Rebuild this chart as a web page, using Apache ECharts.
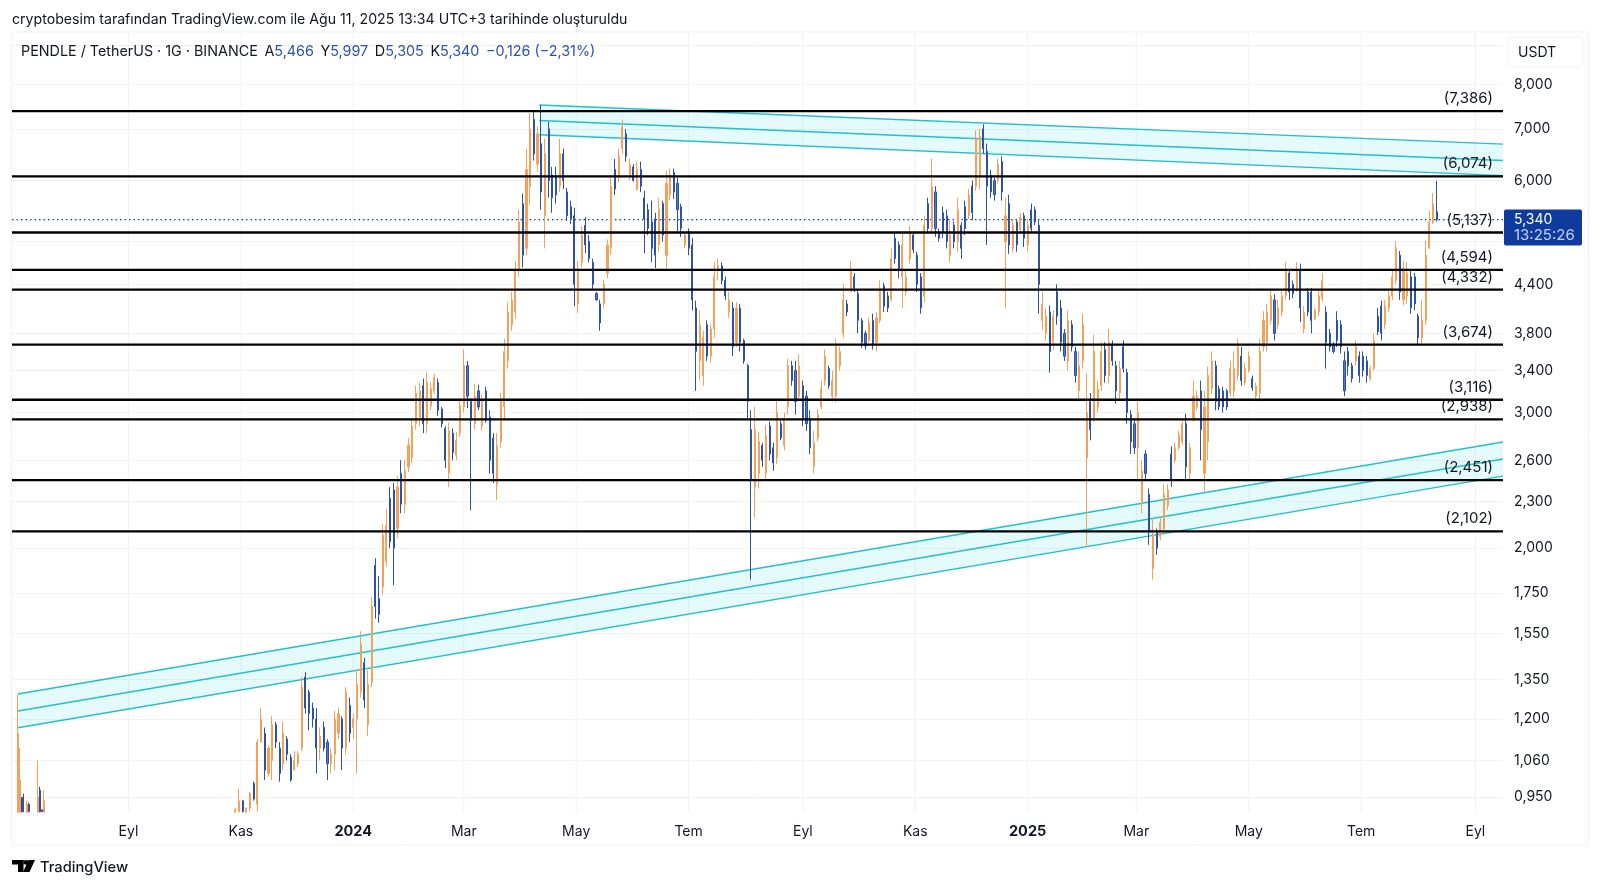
<!DOCTYPE html>
<html><head><meta charset="utf-8">
<style>html,body{margin:0;padding:0;background:#fff}#c{width:1600px;height:887px}</style>
<script src="https://cdn.jsdelivr.net/npm/echarts@6/dist/echarts.min.js"></script>
</head><body><div id="c"></div>
<script>
const earlyDates=['2023-07-03','2023-07-04','2023-07-05','2023-07-06','2023-07-08','2023-07-09','2023-07-14','2023-07-15','2023-07-16','2023-07-17'];
// [open, high, low, close]
const earlyCandles=[[.908,1.29,.908,1.15],[.908,1.10,.908,1.0],[.945,.95,.908,.91],[.95,.96,.908,.91],[.908,.94,.908,.93],[.93,.935,.908,.91],[.908,1.06,.908,.95],[.97,.98,.908,.91],[.915,.915,.908,.91],[.908,.97,.908,.94]];
const firstDate='2023-10-29';
const stepDays=2;
const candles=[
[.908,.92,.908,.915],[.91,.975,.908,.94],[.94,.94,.908,.91],[.908,.92,.908,.92],[.92,.965,.91,.96],[.99,.995,.94,.945],[.93,1.13,.91,1.12],[1.12,1.24,1.12,1.20],[1.15,1.17,1.0,1.03],[1.02,1.11,1.01,1.10],
[1.06,1.21,1.0,1.18],[1.18,1.19,1.10,1.12],[1.10,1.12,.995,1.02],[1.05,1.19,1.03,1.15],[1.13,1.14,1.06,1.08],[1.07,1.08,.995,1.0],[1.03,1.09,1.03,1.06],[1.05,1.09,1.04,1.08],[1.10,1.36,1.09,1.32],[1.36,1.38,1.22,1.24],
[1.30,1.31,1.16,1.22],[1.24,1.26,1.17,1.20],[1.20,1.24,1.02,1.10],[1.10,1.17,1.06,1.14],[1.17,1.19,1.09,1.10],[1.12,1.13,1.0,1.05],[1.05,1.10,1.02,1.08],[1.08,1.23,1.03,1.20],[1.15,1.24,1.13,1.22],[1.20,1.21,1.03,1.10],
[1.10,1.32,1.08,1.30],[1.25,1.28,1.12,1.15],[1.17,1.22,1.13,1.20],[1.20,1.39,1.02,1.33],[1.30,1.56,1.28,1.50],[1.42,1.44,1.24,1.27],[1.18,1.39,1.14,1.33],[1.34,1.73,1.32,1.68],[1.90,1.94,1.62,1.68],[1.72,1.84,1.60,1.64],
[1.78,2.15,1.74,2.08],[1.92,2.25,1.89,2.14],[2.32,2.40,2.0,2.04],[2.38,2.43,1.79,2.0],[2.12,2.48,2.06,2.40],[2.5,2.6,2.22,2.28],[2.28,2.6,2.22,2.52],[2.55,2.78,2.51,2.72],[2.62,2.95,2.58,2.88],[2.9,3.25,2.85,3.18],
[2.95,3.28,2.88,3.2],[3.25,3.32,2.82,2.9],[2.9,3.38,2.82,3.28],[3.06,3.28,3.02,3.22],[3.2,3.37,3.17,3.33],[3.28,3.32,2.97,3.02],[3.03,3.05,2.87,2.9],[2.86,2.88,2.54,2.6],[2.5,2.91,2.4,2.84],[2.82,2.86,2.6,2.66],
[2.64,2.83,2.6,2.76],[2.82,3.13,2.79,3.06],[3.05,3.62,3.0,3.45],[3.45,3.5,3.04,3.15],[3.1,3.13,2.24,2.95],[2.9,3.27,2.85,3.15],[3.2,3.26,3.02,3.05],[2.88,3.17,2.84,3.1],[3.2,3.24,2.91,2.95],[2.96,3.02,2.5,2.6],
[2.78,2.82,2.43,2.5],[2.42,2.82,2.31,2.72],[2.75,3.18,2.7,3.1],[3.05,3.74,2.93,3.6],[3.5,4.17,3.42,4.05],[3.9,4.3,3.83,4.2],[4.05,4.72,3.97,4.6],[4.6,5.5,4.5,5.3],[5.6,5.77,4.63,4.8],[4.9,6.6,4.8,6.2],
[5.9,7.34,5.58,7.0],[7.2,7.36,6.37,6.5],[6.3,7.06,6.16,6.9],[6.7,7.52,5.5,5.8],[5.4,6.8,4.9,6.5],[7.0,7.15,5.7,6.0],[6.1,6.25,5.45,5.7],[6.1,6.25,5.6,5.75],[5.9,6.8,5.8,6.5],[6.5,6.6,5.85,6.0],
[5.8,5.87,5.32,5.4],[5.55,5.65,5.27,5.35],[5.4,5.53,4.12,4.4],[4.15,4.72,4.04,4.6],[4.7,5.24,4.63,5.1],[5.25,5.38,4.83,4.95],[5.0,5.1,4.7,4.75],[4.7,4.75,4.32,4.4],[4.28,4.3,4.19,4.2],[4.15,4.2,3.83,3.92],
[4.15,4.46,4.1,4.4],[4.55,5.03,4.48,4.95],[4.9,6.1,4.8,5.9],[6.2,6.4,5.75,5.85],[6.05,6.6,5.97,6.45],[6.6,7.2,6.5,7.05],[6.9,7.0,6.35,6.45],[6.1,6.4,6.0,6.3],[6.25,6.3,5.98,6.0],[5.85,6.35,5.82,6.2],
[6.2,6.35,5.8,5.9],[5.7,5.82,4.83,5.35],[5.5,5.6,5.1,5.2],[5.3,5.65,4.7,4.9],[5.35,5.45,4.62,4.8],[4.95,5.7,4.85,5.5],[5.6,5.65,5.0,5.1],[4.8,6.18,4.62,5.95],[5.75,6.22,5.65,6.1],[6.15,6.22,5.68,5.8],
[5.95,6.05,5.16,5.5],[5.55,5.6,5.07,5.2],[4.95,5.15,4.9,5.1],[5.15,5.2,4.8,4.9],[4.95,5.05,4.07,4.2],[4.1,4.19,3.2,3.6],[3.5,4.07,3.3,3.9],[3.35,3.83,3.25,3.75],[3.9,3.95,3.5,3.55],[3.55,3.9,3.48,3.85],
[3.85,4.7,3.75,4.5],[4.6,4.75,4.45,4.65],[4.65,4.7,4.4,4.45],[4.45,4.5,4.2,4.25],[4.05,4.3,3.98,4.2],[4.1,4.17,3.55,3.65],[3.7,4.17,3.65,4.1],[4.1,4.15,3.6,3.7],[3.72,3.74,3.47,3.5],[3.45,3.47,2.95,3.1],
[2.85,3.02,1.82,2.45],[2.4,3.05,2.19,2.85],[2.5,2.83,2.39,2.75],[2.72,2.74,2.55,2.6],[2.5,2.89,2.45,2.8],[2.88,2.92,2.6,2.65],[2.7,2.74,2.52,2.58],[2.62,3.12,2.57,3.0],[2.9,2.93,2.76,2.78],[2.72,3.0,2.68,2.95],
[3.05,3.52,2.98,3.45],[3.45,3.5,3.25,3.3],[3.4,3.5,2.98,3.1],[3.15,3.57,3.11,3.45],[3.25,3.3,2.88,2.95],[3.15,3.2,2.84,2.9],[2.95,3.02,2.65,2.7],[2.55,2.84,2.5,2.74],[2.78,3.03,2.75,2.98],[3.05,3.3,3.03,3.22],
[3.3,3.62,3.25,3.55],[3.42,3.45,3.22,3.25],[3.15,3.4,3.1,3.3],[3.15,3.74,3.09,3.65],[3.45,3.65,3.4,3.6],[3.8,4.4,3.75,4.2],[4.15,4.2,4.0,4.05],[4.3,4.72,4.3,4.6],[4.5,4.55,4.3,4.35],[4.28,4.32,3.8,3.95],
[3.95,3.98,3.64,3.7],[3.8,3.83,3.62,3.66],[3.72,3.98,3.7,3.92],[3.95,4.03,3.62,3.68],[3.7,4.05,3.6,3.98],[3.95,4.45,3.92,4.35],[4.38,4.42,4.05,4.12],[4.25,4.3,4.05,4.1],[4.2,4.9,4.18,4.75],[5.05,5.13,4.68,4.75],
[4.95,5.0,4.48,4.6],[4.5,5.15,4.1,4.95],[4.3,4.58,4.25,4.5],[4.75,5.24,4.68,5.15],[5.1,5.15,4.83,4.88],[4.8,4.85,4.3,4.4],[4.5,4.55,4.03,4.1],[4.25,5.4,4.17,5.25],[5.6,5.7,5.13,5.2],[5.2,6.4,5.15,5.9],
[5.8,5.9,5.07,5.2],[5.15,5.2,5.0,5.05],[5.45,5.55,5.05,5.15],[5.4,5.5,4.9,5.0],[4.8,5.33,4.7,5.1],[5.25,5.3,4.9,5.0],[5.0,5.7,4.85,5.5],[5.25,5.3,4.75,4.9],[5.55,5.65,5.1,5.2],[5.4,5.85,5.35,5.75],
[5.9,6.0,5.33,5.45],[5.9,6.97,5.82,6.8],[6.1,7.0,5.85,6.85],[7.0,7.1,6.5,6.6],[6.55,6.7,4.95,5.9],[6.1,6.2,5.7,5.8],[6.0,6.05,5.65,5.75],[6.0,6.4,5.95,6.3],[6.35,6.45,5.65,5.8],[5.0,5.7,4.1,5.4],
[5.6,5.75,4.82,4.95],[4.9,5.35,4.85,5.25],[5.3,5.35,4.85,4.95],[5.18,5.45,5.15,5.38],[5.4,5.45,4.92,5.05],[4.95,5.35,4.85,5.25],[5.5,5.6,5.15,5.2],[5.5,5.55,5.25,5.3],[5.25,5.33,4.03,4.4],[3.95,4.3,3.85,4.15],
[3.8,4.1,3.72,4.0],[4.05,4.13,3.38,3.6],[3.7,4.07,3.62,4.0],[4.3,4.4,3.9,4.0],[4.1,4.2,3.6,3.7],[3.8,3.85,3.5,3.55],[3.5,4.07,3.4,3.95],[3.9,3.95,3.6,3.65],[3.6,3.65,3.28,3.35],[3.2,3.6,3.1,3.45],
[3.5,4.03,3.42,3.9],[2.62,3.37,2.01,3.0],[3.1,3.18,2.76,2.85],[2.95,3.78,2.92,3.6],[3.05,3.3,3.0,3.22],[3.25,3.7,3.2,3.6],[3.62,3.7,3.28,3.35],[3.35,3.85,3.27,3.7],[3.68,3.72,3.45,3.5],[3.45,3.5,3.08,3.2],
[3.18,3.5,3.12,3.42],[3.65,3.72,3.38,3.42],[3.38,3.42,2.9,3.0],[2.98,3.02,2.65,2.75],[2.9,2.95,2.65,2.7],[2.7,3.11,2.45,3.0],[2.3,2.6,2.22,2.52],[2.65,2.68,2.45,2.5],[2.35,2.39,2.02,2.1],[1.88,2.19,1.82,2.08],
[2.1,2.12,1.96,2.0],[2.07,2.2,2.05,2.16],[2.12,2.42,2.08,2.35],[2.27,2.42,2.24,2.38],[2.65,2.71,2.4,2.45],[2.6,2.74,2.58,2.7],[2.7,2.84,2.68,2.8],[2.75,2.95,2.72,2.9],[2.9,2.99,2.45,2.55],[2.5,2.74,2.45,2.7],
[2.95,3.3,2.92,3.15],[3.05,3.2,3.02,3.15],[3.2,3.3,2.6,2.85],[2.5,3.2,2.37,3.05],[2.75,3.44,2.6,3.35],[3.22,3.6,3.17,3.5],[3.45,3.5,3.02,3.1],[3.22,3.25,3.02,3.05],[3.2,3.24,3.0,3.05],[3.2,3.22,3.02,3.05],
[3.18,3.5,3.15,3.42],[3.2,3.6,3.14,3.42],[3.35,3.74,3.3,3.65],[3.55,3.65,3.25,3.3],[3.28,3.48,3.25,3.42],[3.4,3.6,3.38,3.55],[3.32,3.35,3.2,3.23],[3.15,3.28,3.12,3.25],[3.18,3.74,3.1,3.6],[3.65,4.06,3.6,3.95],
[3.7,4.15,3.6,4.05],[3.95,4.32,3.9,4.25],[4.2,4.27,3.72,3.8],[3.9,4.2,3.85,4.1],[4.05,4.32,4.0,4.25],[4.25,4.7,4.2,4.6],[4.55,4.6,4.2,4.3],[4.4,4.45,4.22,4.28],[4.35,4.7,4.3,4.6],[4.6,4.68,3.93,4.1],
[3.85,4.12,3.8,4.05],[4.3,4.35,4.0,4.05],[4.3,4.35,3.8,3.95],[3.97,4.1,3.95,4.07],[4.05,4.32,4.0,4.25],[4.22,4.55,4.18,4.45],[4.05,4.12,3.42,3.7],[3.8,3.85,3.6,3.65],[3.68,3.7,3.58,3.6],[3.95,4.06,3.65,3.72],
[3.9,3.95,3.58,3.65],[3.5,3.6,3.15,3.2],[3.6,3.65,3.35,3.45],[3.45,3.48,3.28,3.32],[3.5,3.72,3.45,3.65],[3.55,3.6,3.28,3.35],[3.55,3.6,3.34,3.4],[3.5,3.55,3.28,3.35],[3.32,3.45,3.3,3.42],[3.42,3.8,3.4,3.72],
[4.0,4.1,3.78,3.82],[4.12,4.19,3.72,3.8],[3.9,4.2,3.85,4.12],[4.1,4.32,4.05,4.25],[4.25,4.6,4.2,4.5],[4.45,5.0,4.4,4.9],[4.8,4.86,4.2,4.3],[4.2,4.72,4.13,4.6],[4.25,4.7,4.15,4.55],[4.5,4.58,4.03,4.1],
[4.5,4.55,4.07,4.15],[4.0,4.03,3.67,3.75],[3.75,4.2,3.67,3.95],[3.95,5.01,3.9,4.8],[4.9,5.48,4.9,5.3],[5.3,5.78,5.27,5.6],[5.466,5.997,5.305,5.34]
];
const levels=[7.386,6.074,5.137,4.594,4.332,3.674,3.116,2.938,2.451,2.102];
const lastPrice=5.34;
const lastTimer='13:25:26';
const channelDates=[['2024-04-11','2025-09-16'],['2023-07-03','2025-09-16']];
const channelTop=[[7.52,6.69],[1.293,2.746]];
const channelMid=[[7.18,6.37],[1.229,2.61]];
const channelBottom=[[6.88,6.09],[1.169,2.48]];
const priceTicks=[9,8,7,6,5,4.4,3.8,3.4,3,2.6,2.3,2,1.75,1.55,1.35,1.2,1.06,.95];
const hiddenPriceTicks=[9,5];
const timeTickDates=['2023-09-01','2023-11-01','2024-01-01','2024-03-01','2024-05-01','2024-07-01','2024-09-01','2024-11-01','2025-01-01','2025-03-01','2025-05-01','2025-07-01','2025-09-01'];
const timeTickLabels=['Eyl','Kas','2024','Mar','May','Tem','Eyl','Kas','2025','Mar','May','Tem','Eyl'];
const titleText='cryptobesim tarafından TradingView.com ile Ağu 11, 2025 13:34 UTC+3 tarihinde oluşturuldu';
const symbolText='PENDLE / TetherUS · 1G · BINANCE';
const ohlcLabels=[['A','5,466'],['Y','5,997'],['D','5,305'],['K','5,340']];
const changeText='−0,126 (−2,31%)';

const FONT='Inter, "Noto Sans", sans-serif', INK='#131722', UP='#f4a259', DOWN='#2c52a5', DOWNBODY='#5676bd', TEAL='#22bfcc', NAVY='#0f3a9e';
const ms=s=>Date.parse(s+'T00:00:00Z');
const DAY=864e5;
const fmt=v=>v.toFixed(3).replace('.',',');
const xMin=ms('2023-06-29')+19*36e5, xMax=ms('2025-09-16');
const toRow=(t,r)=>[t,r[0],r[3],r[2],r[1]];
const rows=earlyCandles.map((r,i)=>toRow(ms(earlyDates[i]),r)).concat(candles.map((r,i)=>toRow(ms(firstDate)+i*stepDays*DAY,r)));
const timeVals=timeTickDates.map(ms);

const chart=echarts.init(document.getElementById('c'));
chart.setOption({
 useUTC:true,animation:false,backgroundColor:'#fff',
 grid:{left:12,right:97,top:33,bottom:74.7},
 xAxis:{type:'time',min:xMin,max:xMax,axisLine:{show:false},axisTick:{show:false},splitLine:{show:false},axisLabel:{show:false}},
 yAxis:{type:'log',position:'right',min:.908,max:9.326,
  axisLine:{show:false},
  axisTick:{show:false,customValues:priceTicks},
  splitLine:{show:true,lineStyle:{color:'#f1f2f4',width:1}},
  axisLabel:{customValues:priceTicks.filter(v=>!hiddenPriceTicks.includes(v)),margin:11,color:INK,fontFamily:FONT,fontSize:14,formatter:v=>fmt(+v)}},
 series:[
  {type:'custom',name:'timeAxis',coordinateSystem:'cartesian2d',clip:false,z:0,silent:true,
   data:timeVals.map(t=>[t,lastPrice]),encode:{x:0,y:1},
   renderItem:(p,api)=>{
    const t=api.coord([api.value(0),9.326]),b=api.coord([api.value(0),.908]);
    const l=timeTickLabels[p.dataIndex],yr=/^\d+$/.test(l);
    return {type:'group',children:[
     {type:'line',shape:{x1:t[0],y1:t[1],x2:b[0],y2:b[1]},style:{stroke:'#f1f2f4',lineWidth:1}},
     {type:'text',x:b[0],y:b[1]+19,style:{text:l,fill:INK,font:(yr?'bold 14.5px ':'14px ')+FONT,textAlign:'center',textVerticalAlign:'middle'}}]};
   }},
  {type:'custom',name:'channels',coordinateSystem:'cartesian2d',clip:true,z:1,silent:true,
   data:channelDates.map((d,i)=>[ms(d[0]),channelTop[i][0],ms(d[1]),channelTop[i][1],channelMid[i][0],channelMid[i][1],channelBottom[i][0],channelBottom[i][1]]),
   encode:{x:0,y:1},
   renderItem:(p,api)=>{
    const a=api.value(0),b=api.value(2);
    const pt=(t,v)=>api.coord([t,v]);
    const t0=pt(a,api.value(1)),t1=pt(b,api.value(3)),m0=pt(a,api.value(4)),m1=pt(b,api.value(5)),b0=pt(a,api.value(6)),b1=pt(b,api.value(7));
    const ln=(s,e)=>({type:'line',shape:{x1:s[0],y1:s[1],x2:e[0],y2:e[1]},style:{stroke:TEAL,lineWidth:1.4}});
    return {type:'group',children:[
     {type:'polygon',shape:{points:[t0,t1,b1,b0]},style:{fill:'rgba(40,210,225,0.12)'}},
     ln(t0,t1),ln(m0,m1),ln(b0,b1)]};
   }},
  {type:'line',name:'last',data:[[xMin,lastPrice],[xMax,lastPrice]],symbol:'none',silent:true,z:1,
   lineStyle:{color:NAVY,width:1.2,type:[1.5,3]}},
  {type:'candlestick',name:'PENDLE',data:rows,encode:{x:0,y:[1,2,3,4]},barWidth:1.6,z:2,silent:true,
   itemStyle:{color:UP,color0:DOWNBODY,borderColor:UP,borderColor0:DOWN,borderWidth:1}},
  {type:'custom',name:'levels',coordinateSystem:'cartesian2d',clip:false,z:3,silent:true,
   data:levels.map(v=>[xMin,v]),encode:{x:0,y:1},
   renderItem:(p,api)=>{
    const s=api.coord([xMin,api.value(1)]),e=api.coord([xMax,api.value(1)]);
    return {type:'group',children:[
     {type:'line',shape:{x1:s[0],y1:s[1],x2:e[0],y2:e[1]},style:{stroke:'#000',lineWidth:2.3}},
     {type:'text',x:e[0]-10,y:e[1]-12.5,style:{text:'('+fmt(api.value(1))+')',fill:INK,font:'15px '+FONT,textAlign:'right',textVerticalAlign:'middle'}}]};
   }},
  {type:'custom',name:'tag',coordinateSystem:'cartesian2d',clip:false,z:5,silent:true,
   data:[[xMax,lastPrice]],encode:{x:0,y:1},
   renderItem:(p,api)=>{
    const e=api.coord([xMax,api.value(1)]);
    return {type:'group',children:[
     {type:'rect',shape:{x:e[0]+1,y:e[1]-10,width:78,height:36,r:2},style:{fill:NAVY}},
     {type:'text',x:e[0]+11,y:e[1]+0.5,style:{text:fmt(api.value(1)),fill:'#fff',font:'14px '+FONT,textVerticalAlign:'middle'}},
     {type:'text',x:e[0]+11,y:e[1]+16,style:{text:lastTimer,fill:'#c3d0ee',font:'15px '+FONT,textVerticalAlign:'middle'}}]};
   }}
 ],
 graphic:[
  {type:'rect',silent:true,z:0,shape:{x:11.5,y:32,width:1577,height:813,r:2},style:{fill:'none',stroke:'#f0f1f3',lineWidth:1}},
  {type:'rect',silent:true,z:10,shape:{x:1508,y:37,width:75,height:30,r:5},style:{fill:'#fff',stroke:'#f0f1f3',lineWidth:1}},
  {type:'text',z:11,x:1518,y:53,style:{text:'USDT',fill:INK,font:'14px '+FONT,textVerticalAlign:'middle'}},
  {type:'text',z:11,x:12,y:20,style:{text:titleText,fill:INK,font:'14.13px '+FONT,textVerticalAlign:'middle'}},
  {type:'text',z:11,x:21,y:51.5,style:{text:'{s|'+symbolText+'}  '+ohlcLabels.map(o=>'{s|'+o[0]+'}{v|'+o[1]+'}').join('  ')+'  {v|'+changeText+'}',
    textVerticalAlign:'middle',rich:{s:{fill:INK,font:'14.33px '+FONT},v:{fill:'#2c52a5',font:'14.33px '+FONT}}}},
  {type:'rect',silent:true,z:11,shape:{x:12,y:860,width:11.5,height:4.5},style:{fill:'#000'}},
  {type:'rect',silent:true,z:11,shape:{x:18,y:860,width:5.5,height:12},style:{fill:'#000'}},
  {type:'circle',silent:true,z:11,shape:{cx:26,cy:862.4,r:2.4},style:{fill:'#000'}},
  {type:'polygon',silent:true,z:11,shape:{points:[[28.5,860],[35,860],[29.5,872],[23,872]]},style:{fill:'#000'}},
  {type:'text',z:11,x:40,y:867.5,style:{text:'TradingView',fill:'#131722',font:'500 14.7px '+FONT,textVerticalAlign:'middle'}}
 ]
});
</script></body></html>
